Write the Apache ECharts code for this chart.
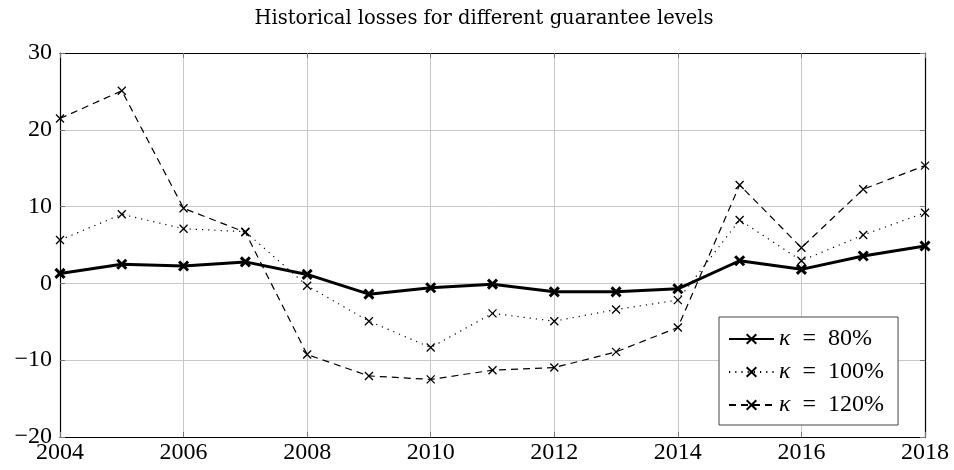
<!DOCTYPE html>
<html>
<head>
<meta charset="utf-8">
<script src="https://cdn.jsdelivr.net/npm/echarts@6/dist/echarts.min.js"></script>
<style>
  html, body { margin: 0; padding: 0; background: #fff; }
  #chart { width: 954px; height: 470px; }
</style>
</head>
<body>
<div id="chart"></div>
<script>
// Years on the x axis
const years = [2004, 2005, 2006, 2007, 2008, 2009, 2010, 2011, 2012, 2013, 2014, 2015, 2016, 2017, 2018];

// Historical losses per guarantee level
const loss80 = [1.3, 2.5, 2.26, 2.8, 1.17, -1.4, -0.57, -0.1, -1.1, -1.1, -0.7, 2.95, 1.83, 3.56, 4.87];
const loss100 = [5.65, 9.0, 7.12, 6.73, -0.3, -4.92, -8.35, -3.9, -4.92, -3.4, -2.18, 8.26, 2.95, 6.3, 9.2];
const loss120 = [21.47, 25.08, 9.78, 6.65, -9.26, -12.05, -12.5, -11.3, -10.96, -8.92, -5.74, 12.82, 4.65, 12.26, 15.34];

const seriesNames = ['κ = 80%', 'κ = 100%', 'κ = 120%'];

const xTicks = { min: 2004, max: 2018, interval: 2 };
const yTicks = { min: -20, max: 30, interval: 10 };

const SERIF = '"Liberation Serif", "DejaVu Serif", serif';
const TITLE_SERIF = '"DejaVu Serif", "Liberation Serif", serif';
const CROSS = 'path://M0,0L10,10M10,0L0,10';

function pairs(vals) {
  return years.map((y, i) => [y, vals[i]]);
}

const chart = echarts.init(document.getElementById('chart'), null, { renderer: 'canvas' });

const frameLine = { show: true, onZero: false, lineStyle: { color: '#000', width: 1.2 } };
const tickStyle = { show: true, inside: true, length: 5, lineStyle: { color: '#777', width: 1 } };
const gridLine = { show: true, lineStyle: { color: '#c8c8c8', width: 1 } };

chart.setOption({
  animation: false,
  backgroundColor: '#fff',
  title: {
    text: 'Historical losses for different guarantee levels',
    left: 479, top: 4, textAlign: 'center',
    textStyle: { fontFamily: TITLE_SERIF, fontSize: 19.5, fontWeight: 'normal', color: '#000' }
  },
  grid: { left: 60, right: 29, top: 53, bottom: 33 },
  legend: {
    left: 719, top: 317,
    orient: 'vertical',
    itemWidth: 45, itemHeight: 12, itemGap: 9,
    padding: [10, 14, 8, 9],
    borderColor: '#444', borderWidth: 1,
    backgroundColor: '#fff',
    data: seriesNames,
    formatter: function (name) {
      return '{k|κ}\u2002=\u2002' + name.split('= ')[1];
    },
    textStyle: {
      fontFamily: SERIF, fontSize: 24, lineHeight: 24, color: '#000',
      rich: { k: { fontFamily: SERIF, fontSize: 24, fontStyle: 'italic', color: '#000' } }
    }
  },
  xAxis: [
    {
      type: 'value', min: xTicks.min, max: xTicks.max, interval: xTicks.interval,
      position: 'bottom',
      axisLine: frameLine,
      axisTick: tickStyle,
      axisLabel: { fontFamily: SERIF, fontSize: 24, color: '#000', margin: 4, formatter: v => String(v) },
      splitLine: gridLine
    },
    {
      type: 'value', min: xTicks.min, max: xTicks.max, interval: xTicks.interval,
      position: 'top',
      axisLine: frameLine,
      axisTick: tickStyle,
      axisLabel: { show: false },
      splitLine: { show: false }
    }
  ],
  yAxis: [
    {
      type: 'value', min: yTicks.min, max: yTicks.max, interval: yTicks.interval,
      position: 'left',
      axisLine: frameLine,
      axisTick: tickStyle,
      axisLabel: {
        fontFamily: SERIF, fontSize: 24, color: '#000', margin: 8,
        formatter: v => String(v).replace('-', '\u2212')
      },
      splitLine: gridLine
    },
    {
      type: 'value', min: yTicks.min, max: yTicks.max, interval: yTicks.interval,
      position: 'right',
      axisLine: frameLine,
      axisTick: tickStyle,
      axisLabel: { show: false },
      splitLine: { show: false }
    }
  ],
  series: [
    {
      name: seriesNames[0], type: 'line', data: pairs(loss80),
      symbol: CROSS, symbolSize: 9, showSymbol: true,
      lineStyle: { color: '#000', width: 3 },
      itemStyle: { color: '#000', borderColor: '#000', borderWidth: 3 },
      z: 5
    },
    {
      name: seriesNames[1], type: 'line', data: pairs(loss100),
      symbol: CROSS, symbolSize: 8, showSymbol: true,
      lineStyle: { color: '#000', width: 1.2, type: [1.2, 5] },
      itemStyle: { color: '#000', borderColor: '#000', borderWidth: 1.3 },
      z: 4
    },
    {
      name: seriesNames[2], type: 'line', data: pairs(loss120),
      symbol: CROSS, symbolSize: 8, showSymbol: true,
      lineStyle: { color: '#000', width: 1.2, type: [7, 5] },
      itemStyle: { color: '#000', borderColor: '#000', borderWidth: 1.3 },
      z: 3
    }
  ]
});
</script>
</body>
</html>
